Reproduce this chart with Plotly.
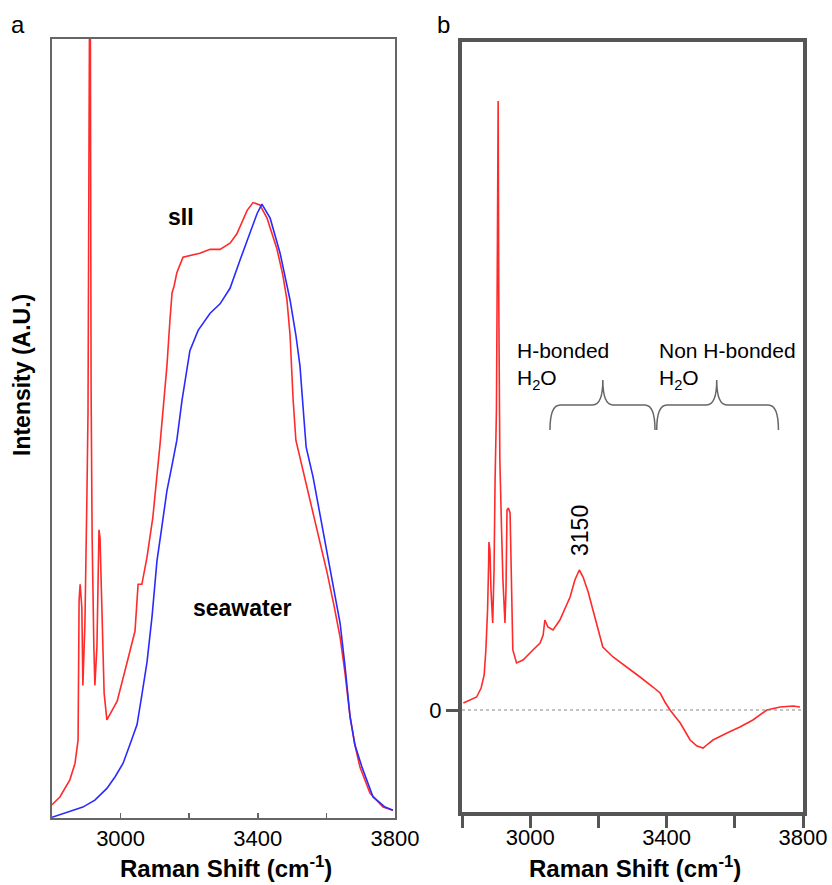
import plotly.graph_objects as go

# ---------------- data ----------------
# Panel a: sII hydrate (red) and seawater (blue), normalized intensity
wn_sii = [2800, 2823, 2852, 2867, 2876, 2879, 2882, 2887, 2890, 2896,
          2902, 2905, 2908, 2911, 2914, 2917, 2922, 2925, 2931, 2937,
          2940, 2946, 2952, 2960, 2990, 3019, 3042, 3051, 3062, 3077,
          3094, 3115, 3135, 3144, 3150, 3156, 3164, 3173, 3182, 3231,
          3261, 3290, 3319, 3339, 3369, 3386, 3406, 3427, 3456, 3473,
          3485, 3494, 3503, 3511, 3523, 3541, 3561, 3581, 3602, 3622,
          3640, 3654, 3669, 3683, 3698, 3727, 3765, 3794]
int_sii = [0.017, 0.027, 0.049, 0.07, 0.10, 0.28, 0.30, 0.27, 0.17, 0.25,
           0.42, 0.52, 0.88, 1.2, 0.55, 0.36, 0.22, 0.17, 0.22, 0.37,
           0.36, 0.25, 0.16, 0.126, 0.15, 0.20, 0.24, 0.30, 0.30, 0.335,
           0.386, 0.48, 0.58, 0.64, 0.674, 0.683, 0.70, 0.71, 0.72, 0.725,
           0.73, 0.73, 0.738, 0.75, 0.78, 0.79, 0.787, 0.77, 0.73, 0.697,
           0.665, 0.62, 0.537, 0.485, 0.463, 0.427, 0.39, 0.353, 0.315, 0.273,
           0.232, 0.187, 0.13, 0.094, 0.065, 0.032, 0.014, 0.01]

wn_sw = [2800, 2890, 2925, 2960, 2984, 3007, 3027, 3048, 3062, 3077,
         3092, 3106, 3121, 3135, 3150, 3164, 3179, 3202, 3226, 3261,
         3290, 3319, 3348, 3377, 3398, 3412, 3436, 3465, 3494, 3511,
         3523, 3535, 3541, 3561, 3581, 3602, 3622, 3640, 3654, 3669,
         3683, 3704, 3736, 3771, 3794]
int_sw = [0.001, 0.014, 0.023, 0.038, 0.053, 0.07, 0.094, 0.12, 0.158, 0.20,
          0.26, 0.33, 0.376, 0.42, 0.453, 0.485, 0.536, 0.60, 0.626, 0.648,
          0.66, 0.68, 0.716, 0.75, 0.776, 0.788, 0.77, 0.725, 0.665, 0.62,
          0.58, 0.51, 0.476, 0.438, 0.39, 0.344, 0.296, 0.25, 0.196, 0.13,
          0.094, 0.065, 0.027, 0.014, 0.01]

# Panel b: difference spectrum
wn_diff = [2804, 2823, 2843, 2856, 2865, 2870, 2875, 2878, 2879, 2882,
           2885, 2890, 2894, 2897, 2901, 2904, 2906, 2908, 2911, 2916,
           2920, 2926, 2929, 2932, 2936, 2941, 2946, 2949, 2960, 2979,
           3008, 3029, 3038, 3043, 3052, 3067, 3087, 3117, 3131, 3144,
           3155, 3170, 3184, 3199, 3213, 3243, 3284, 3322, 3360, 3381,
           3395, 3410, 3440, 3469, 3489, 3507, 3521, 3536, 3577, 3615,
           3653, 3694, 3733, 3771, 3791]
int_diff = [0.07, 0.10, 0.13, 0.22, 0.35, 0.6, 1.0, 1.45, 1.68, 1.6,
            1.2, 0.87, 1.4, 2.3, 3.0, 4.73, 6.09, 4.0, 2.5, 1.8,
            1.3, 0.87, 1.2, 2.0, 2.02, 1.97, 1.23, 0.6, 0.47, 0.5,
            0.6, 0.67, 0.75, 0.9, 0.83, 0.8, 0.9, 1.13, 1.3, 1.4,
            1.33, 1.18, 1.0, 0.8, 0.63, 0.53, 0.43, 0.33, 0.23, 0.17,
            0.08, 0.0, -0.13, -0.3, -0.36, -0.38, -0.34, -0.3, -0.23, -0.17,
            -0.1, 0.0, 0.03, 0.04, 0.03]

# Tick labels
xtick_vals_a = [3000, 3200, 3400, 3600, 3800]
xtick_text_a = ["3000", "", "3400", "", "3800"]
xtick_vals_b = [2800, 3000, 3200, 3400, 3600, 3800]
xtick_text_b = ["", "3000", "", "3400", "", "3800"]

# Brace regions in panel b: (start, tip, end)
brace_h = (3058, 3213, 3366)
brace_nh = (3371, 3547, 3728)

FONT = "Liberation Sans, Arial, Helvetica, sans-serif"

fig = go.Figure()
fig.add_trace(go.Scatter(x=wn_sii, y=int_sii, mode="lines",
                         line=dict(color="#ff2a2a", width=1.6),
                         xaxis="x", yaxis="y", showlegend=False))
fig.add_trace(go.Scatter(x=wn_sw, y=int_sw, mode="lines",
                         line=dict(color="#2a2aff", width=1.6),
                         xaxis="x", yaxis="y", showlegend=False))
fig.add_trace(go.Scatter(x=wn_diff, y=int_diff, mode="lines",
                         line=dict(color="#ff2a2a", width=1.6),
                         xaxis="x2", yaxis="y2", showlegend=False))


def brace_path(x1, xt, x2, yb=2.8, ym=3.05, yt=3.3, d=30):
    return (f"M {x1},{yb} Q {x1},{ym} {x1 + d},{ym} L {xt - d},{ym} "
            f"Q {xt},{ym} {xt},{yt} Q {xt},{ym} {xt + d},{ym} "
            f"L {x2 - d},{ym} Q {x2},{ym} {x2},{yb}")


shapes = [
    dict(type="line", xref="x2 domain", yref="y2", x0=0, x1=1, y0=0, y1=0,
         line=dict(color="#888888", width=1, dash="dot")),
    dict(type="path", xref="x2", yref="y2", path=brace_path(*brace_h),
         line=dict(color="#666666", width=1.5)),
    dict(type="path", xref="x2", yref="y2", path=brace_path(*brace_nh),
         line=dict(color="#666666", width=1.5)),
]


def pann(text, px, py, size, angle=0):
    return dict(text=text, x=px / 832, y=1 - py / 885, xref="paper", yref="paper",
                xanchor="center", yanchor="middle", textangle=angle,
                showarrow=False, font=dict(family=FONT, size=size, color="black"))


annotations = [
    pann("a", 18, 24, 24),
    pann("b", 443, 24, 24),
    pann("<b>Intensity (A.U.)</b>", 22, 375, 23, -90),
    pann("<b>Raman Shift (cm<sup>-1</sup>)</b>", 226, 867, 24),
    pann("<b>Raman Shift (cm<sup>-1</sup>)</b>", 635, 867, 24),
    dict(text="<b>sII</b>", x=3176, y=0.771, xref="x", yref="y",
         xanchor="center", yanchor="middle",
         showarrow=False, font=dict(family=FONT, size=23, color="black")),
    dict(text="<b>seawater</b>", x=3354, y=0.27, xref="x", yref="y",
         xanchor="center", yanchor="middle",
         showarrow=False, font=dict(family=FONT, size=23, color="black")),
    dict(text="3150", x=3146, y=1.8, xref="x2", yref="y2", textangle=-90,
         xanchor="center", yanchor="middle",
         showarrow=False, font=dict(family=FONT, size=23, color="black")),
    dict(text="H-bonded<br>H<sub>2</sub>O", x=2955, y=3.44, xref="x2", yref="y2",
         xanchor="left", yanchor="middle", align="left", showarrow=False,
         font=dict(family=FONT, size=21, color="black")),
    dict(text="Non H-bonded<br>H<sub>2</sub>O", x=3372, y=3.44, xref="x2", yref="y2",
         xanchor="left", yanchor="middle", align="left", showarrow=False,
         font=dict(family=FONT, size=21, color="black")),
]

tickfont = dict(family=FONT, size=22, color="black")

fig.update_layout(
    template="none",
    width=832, height=885,
    margin=dict(l=0, r=0, t=0, b=0, autoexpand=False),
    paper_bgcolor="white", plot_bgcolor="white",
    showlegend=False,
    shapes=shapes,
    annotations=annotations,
    xaxis=dict(domain=[52 / 832, 395 / 832], range=[2800, 3800], automargin=False,
               showline=True, mirror=True, linecolor="#666666", linewidth=2,
               ticks="inside", ticklen=5, tickwidth=1.5, tickcolor="#666666",
               tickvals=xtick_vals_a, ticktext=xtick_text_a, tickfont=tickfont,
               showgrid=False, zeroline=False, anchor="y"),
    yaxis=dict(domain=[1 - 818 / 885, 1 - 39 / 885], range=[0, 1], automargin=False,
               showline=True, mirror=True, linecolor="#666666", linewidth=2,
               showticklabels=False, ticks="", showgrid=False, zeroline=False,
               anchor="x"),
    xaxis2=dict(domain=[462 / 832, 803 / 832], range=[2800, 3800], automargin=False,
                showline=True, mirror=True, linecolor="#555555", linewidth=4,
                ticks="outside", ticklen=12, tickwidth=3, tickcolor="#555555",
                tickvals=xtick_vals_b, ticktext=xtick_text_b, tickfont=tickfont,
                ticklabelstandoff=-9,
                showgrid=False, zeroline=False, anchor="y2"),
    yaxis2=dict(domain=[1 - 812 / 885, 1 - 42 / 885], range=[-1.02, 6.68],
                automargin=False,
                showline=True, mirror=True, linecolor="#555555", linewidth=4,
                ticks="outside", ticklen=12, tickwidth=3, tickcolor="#555555",
                tickvals=[0], ticktext=["0"], tickfont=tickfont,
                showgrid=False, zeroline=False, anchor="x2"),
)

fig.write_html("out.html",
               config={"displayModeBar": False, "staticPlot": True},
               post_script="document.body.style.margin='0';"
                           "document.body.style.padding='0';")
